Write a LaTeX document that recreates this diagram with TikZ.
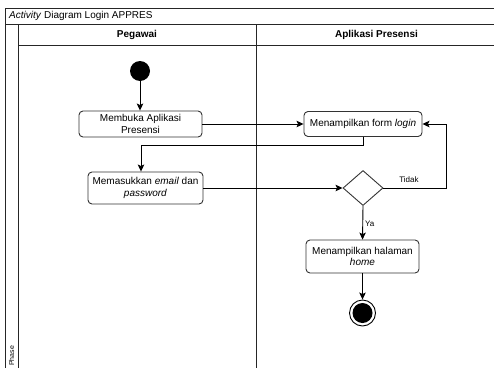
\documentclass[tikz,border=0pt]{standalone}
\usepackage{fontspec}
\setmainfont{Liberation Sans}
\usetikzlibrary{shapes.geometric,arrows.meta}
\begin{document}
\begin{tikzpicture}[x=1pt,y=-1pt,
  frame/.style={draw=black!85,line width=0.9pt},
  act/.style={draw=black!80,line width=0.9pt,rounded corners=4pt,align=center,
    font=\fontsize{10}{11.5}\selectfont,inner sep=1pt},
  flow/.style={draw=black,line width=0.9pt,-{Stealth[length=7pt,width=6.5pt,inset=1.5pt]}},
  lbl/.style={font=\fontsize{8}{9}\selectfont,inner sep=1pt},
  head/.style={font=\bfseries\fontsize{10}{12}\selectfont,inner sep=0pt}]
\useasboundingbox (0,0) rectangle (494,367);

% swimlane frame
\draw[frame] (5,380) -- (5,8) -- (500,8);
\draw[frame] (5,24) -- (500,24);
\draw[frame] (18,24) -- (18,380);
\draw[frame] (18,45) -- (500,45);
\draw[frame] (256,24) -- (256,380);
\draw[frame] (497,8) -- (497,380);

% titles
\node[anchor=west,font=\fontsize{10}{12}\selectfont,inner sep=0pt] (title) at (9,16)
  {\textit{Activity} Diagram Login APPRES};
\node[head] (lane1) at (137,34.5) {Pegawai};
\node[head] (lane2) at (376.5,34.5) {Aplikasi Presensi};
\node[rotate=90,anchor=west,font=\fontsize{7}{8}\selectfont,inner sep=0pt] (phase) at (11.5,366) {Phase};

% activity nodes
\node[circle,fill=black,minimum size=20pt,inner sep=0pt] (start) at (140,71) {};
\node[act,minimum width=123pt,minimum height=26pt] (b1) at (140.5,124) {Membuka Aplikasi\\Presensi};
\node[act,minimum width=118pt,minimum height=25pt] (form) at (363,124) {Menampilkan form \textit{login}};
\node[act,minimum width=115pt,minimum height=32pt] (b2) at (145.5,188) {Memasukkan \textit{email} dan\\\textit{password}};
\node[diamond,draw=black!80,line width=0.9pt,minimum width=40pt,minimum height=35pt,inner sep=0pt] (dec) at (363,188) {};
\node[act,minimum width=113pt,minimum height=33pt] (b3) at (362.5,256.5) {Menampilkan halaman\\\textit{home}};
\node[circle,draw=black,line width=0.9pt,minimum size=26pt,inner sep=0pt,
  path picture={\fill[black] (path picture bounding box.center) circle (10pt);}] (end) at (362.5,313) {};

% connectors
\coordinate (k1) at (141,145);
\coordinate (k2) at (446,188);
\draw[flow] (start) -- (start |- b1.north);
\draw[flow] (b1.east) -- (form.west);
\draw[flow] (form.south) |- (k1) -- (k1 |- b2.north);
\draw[flow] (b2.east) -- (dec.west);
\draw[flow] (dec.east) -- (k2) |- (form.east);
\node[lbl] (tidak) at (409,180) {Tidak};
\draw[flow] (dec.south) -- (b3.north);
\node[lbl,anchor=west] (ya) at (364,224) {Ya};
\draw[flow] (b3.south) -- (end.north);
\end{tikzpicture}
\end{document}
